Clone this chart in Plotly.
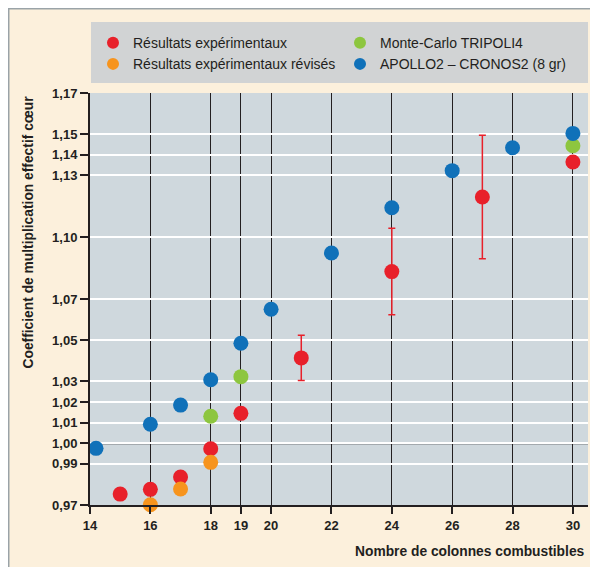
import plotly.graph_objects as go

# Résultats expérimentaux
exp_x = [15, 16, 17, 18, 19, 21, 24, 27, 30]
exp_y = [0.9753, 0.9776, 0.9836, 0.9973, 1.0145, 1.0414, 1.0833, 1.1195, 1.1365]
exp_err = [None, None, None, None, None, 0.011, 0.021, 0.030, None]

# Résultats expérimentaux révisés
rev_x = [16, 17, 18]
rev_y = [0.9701, 0.9778, 0.9907]

# Monte-Carlo TRIPOLI4
tri_x = [18, 19, 30]
tri_y = [1.0131, 1.0323, 1.1444]

# APOLLO2 - CRONOS2 (8 gr)
apo_x = [14.2, 16, 17, 18, 19, 20, 22, 24, 26, 28, 30]
apo_y = [0.9975, 1.0092, 1.0185, 1.0308, 1.0485, 1.065, 1.0923, 1.1143, 1.1323, 1.1434, 1.1504]

x_ticks = [14, 16, 18, 19, 20, 22, 24, 26, 28, 30]
y_ticks = [0.97, 0.99, 1.00, 1.01, 1.02, 1.03, 1.05, 1.07, 1.10, 1.13, 1.14, 1.15, 1.17]
y_labels = ["0,97", "0,99", "1,00", "1,01", "1,02", "1,03", "1,05", "1,07",
            "1,10", "1,13", "1,14", "1,15", "1,17"]

RED = "#E8202A"
ORANGE = "#F7941D"
GREEN = "#8DC63F"
BLUE = "#1071B9"
INK = "#231F20"
BEIGE = "#FCF0DC"
FONT = "Liberation Sans"

fig = go.Figure()


def add_points(x, y, name, color, err=None):
    fig.add_trace(
        go.Scatter(
            x=x,
            y=y,
            mode="markers",
            name=name,
            cliponaxis=False,
            marker=dict(color=color, size=15, line=dict(width=0)),
            error_y=dict(type="data", array=err, color=color, thickness=1.5, width=3.5, visible=err is not None),
        )
    )


add_points(exp_x, exp_y, "Résultats expérimentaux", RED, exp_err)
add_points(tri_x, tri_y, "Monte-Carlo TRIPOLI4", GREEN)
add_points(rev_x, rev_y, "Résultats expérimentaux révisés", ORANGE)
add_points(apo_x, apo_y, "APOLLO2 – CRONOS2 (8 gr)", BLUE)

# line at k = 1,00
fig.add_shape(type="line", xref="paper", x0=0, x1=1, yref="y", y0=1.0, y1=1.0,
              line=dict(color=INK, width=2), layer="between")

# legend box
fig.add_shape(type="rect", xref="paper", yref="paper", x0=0.002, x1=1.0, y0=1.0243, y1=1.1723,
              fillcolor="#D1D3D4", line=dict(width=0), layer="below")

# grey frame lines on the left and top edge
fig.add_shape(type="line", xref="paper", yref="paper", x0=-0.1647, x1=1.05, y0=1.2063, y1=1.2063,
              line=dict(color="#9AA3A8", width=3), layer="below")
fig.add_shape(type="line", xref="paper", yref="paper", x0=-0.1647, x1=-0.1647, y0=-0.2, y1=1.2063,
              line=dict(color="#9AA3A8", width=3), layer="below")

fig.add_annotation(
    text="Coefficient de multiplication effectif cœur",
    textangle=-90, xref="paper", yref="paper", x=-0.1225, y=1.0,
    xanchor="center", yanchor="top", showarrow=False,
    font=dict(family=FONT, size=13.8, color=INK, weight="bold"),
)
fig.add_annotation(
    text="Nombre de colonnes combustibles",
    xref="paper", yref="paper", x=0.998, y=-0.112,
    xanchor="right", yanchor="middle", showarrow=False,
    font=dict(family=FONT, size=13.8, color=INK, weight="bold"),
)

fig.update_xaxes(
    range=[14, 30.5],
    tickvals=x_ticks,
    showgrid=True, gridcolor=INK, gridwidth=1.3,
    showline=True, linecolor=INK, linewidth=2,
    ticks="outside", ticklen=7, tickwidth=2, tickcolor=INK,
    tickfont=dict(family=FONT, size=13, color=INK, weight="bold"),
    zeroline=False,
)
fig.update_yaxes(
    range=[0.97, 1.17],
    tickvals=y_ticks, ticktext=y_labels,
    showgrid=True, gridcolor="white", gridwidth=2,
    showline=True, linecolor=INK, linewidth=2,
    ticks="outside", ticklen=8, tickwidth=2, tickcolor=INK,
    tickfont=dict(family=FONT, size=13, color=INK, weight="bold"),
    zeroline=False,
)

fig.update_layout(
    width=598,
    height=567,
    margin=dict(l=82, r=18, t=85, b=70),
    paper_bgcolor=BEIGE,
    plot_bgcolor="#CFD8DD",
    showlegend=True,
    legend=dict(
        orientation="h",
        x=0.006, y=1.16, xanchor="left", yanchor="top",
        bgcolor="rgba(0,0,0,0)",
        entrywidth=202, entrywidthmode="pixels",
        itemsizing="constant",
        traceorder="normal",
        font=dict(family=FONT, size=14, color=INK),
        tracegroupgap=0,
    ),
)

fig.write_html("out.html")
